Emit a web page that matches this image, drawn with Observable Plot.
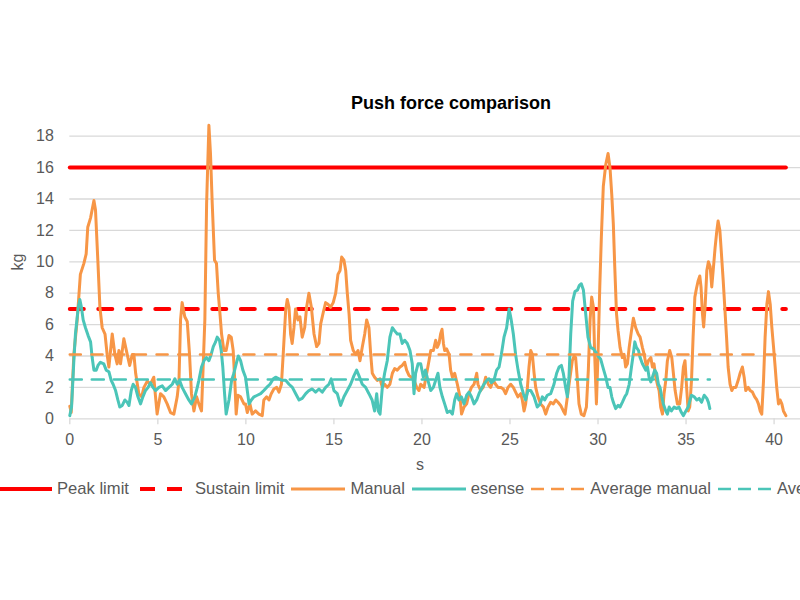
<!DOCTYPE html>
<html><head><meta charset="utf-8">
<script src="https://cdn.jsdelivr.net/npm/d3@7"></script>
<script src="https://cdn.jsdelivr.net/npm/@observablehq/plot@0.6"></script>
<style>
html,body{margin:0;padding:0;background:#fff;overflow:hidden;width:800px;height:600px}
#wrap{position:relative;width:800px;height:600px;font-family:"Liberation Sans",Arial,sans-serif;color:#595959}
#wrap svg.plot{position:absolute;left:0;top:0}
.title{position:absolute;left:0;width:902px;top:92px;text-align:center;font-weight:bold;font-size:18px;line-height:22px;color:#000}
.ylab{position:absolute;left:18px;top:262px;font-size:16px;transform:translate(-50%,-50%) rotate(-90deg);white-space:nowrap}
.xlab{position:absolute;left:420px;top:465px;font-size:16px;transform:translate(-50%,-50%)}
.legend{position:absolute;left:-2px;top:479px;display:flex;align-items:center;white-space:nowrap;font-size:16.6px;line-height:20px}
.legend .item{display:flex;align-items:center;margin-right:7px}
.legend svg{margin-right:5px;display:block}
</style></head><body><div id="wrap"></div>
<script>
// ---- data ----
const manualT = [0,0.08,0.23,0.42,0.6,0.8,0.93,1.02,1.18,1.37,1.46,1.6,1.71,1.84,2.0,2.12,2.22,2.41,2.56,2.69,2.79,2.88,3.07,3.26,3.4,3.55,3.64,3.74,3.92,4.08,4.21,4.4,4.58,4.77,4.87,4.96,5.15,5.34,5.53,5.72,5.91,6.1,6.2,6.29,6.38,6.53,6.67,6.8,6.91,7.05,7.2,7.33,7.48,7.56,7.67,7.77,7.9,7.99,8.09,8.22,8.33,8.43,8.5,8.62,8.75,8.88,9.04,9.17,9.28,9.38,9.45,9.55,9.7,9.89,9.98,
10.08,10.23,10.36,10.55,10.74,10.93,11.02,11.18,11.31,11.44,11.59,11.75,11.88,12.02,12.12,12.26,12.35,12.45,12.54,12.63,12.73,12.82,12.96,13.07,13.2,13.34,13.45,13.58,13.72,13.87,14.02,14.15,14.25,14.4,14.53,14.66,14.81,14.96,15.1,15.23,15.35,15.44,15.57,15.67,15.76,15.86,15.95,16.1,16.24,16.37,16.48,16.61,16.75,16.86,16.99,17.09,17.18,17.31,17.46,17.62,17.75,17.88,18.03,18.18,18.32,18.45,18.6,18.75,18.88,19.02,19.13,19.27,19.4,19.55,19.7,19.83,
19.93,20.12,20.27,20.4,20.5,20.65,20.78,20.87,20.97,21.06,21.14,21.22,21.29,21.4,21.54,21.63,21.73,21.86,22.01,22.16,22.25,22.39,22.54,22.67,22.81,22.96,23.11,23.18,23.33,23.48,23.62,23.77,23.9,24.05,24.18,24.32,24.47,24.62,24.75,24.89,25.04,25.19,25.32,25.45,25.61,25.7,25.8,25.89,25.99,26.08,26.18,26.27,26.37,26.46,26.59,26.74,26.9,27.03,27.16,27.31,27.46,27.6,27.73,27.88,28.03,28.13,28.26,28.41,28.54,28.64,28.73,28.83,28.92,29.05,29.2,29.34,29.45,29.55,29.64,29.74,29.81,29.91,30.0,30.1,30.19,
30.3,30.44,30.57,30.68,30.78,30.87,30.95,31.05,31.14,31.25,31.38,31.48,31.57,31.67,31.77,31.9,32.01,32.14,32.28,32.39,32.52,32.62,32.75,32.86,33.0,33.09,33.18,33.28,33.37,33.47,33.56,33.66,33.75,33.85,33.94,34.07,34.19,34.28,34.38,34.51,34.64,34.75,34.85,34.94,35.02,35.12,35.21,35.31,35.4,35.5,35.59,35.69,35.78,35.85,35.93,36.0,36.08,36.18,36.27,36.37,36.46,36.56,36.65,36.75,36.82,36.92,37.01,37.11,37.2,37.3,37.39,37.5,37.6,37.69,37.83,37.96,38.07,38.2,38.3,38.39,38.53,38.64,38.77,38.9,39.02,39.11,39.21,39.3,39.4,39.49,39.59,39.68,39.78,39.87,39.97,40.06,40.15,40.25,40.34,40.44,40.53,40.67];
const manualKg = [0.8,0.4,4.1,6.3,9.2,9.9,10.5,12.2,12.8,13.9,13.3,9.9,7.1,5.8,5.4,4.1,3.3,5.4,4.1,3.5,4.35,3.5,5.1,4.1,3.4,4.1,4.1,2.9,1.6,1.4,2.0,2.4,2.2,2.65,1.4,0.3,1.6,1.4,0.95,0.4,0.3,1.4,2.4,6.3,7.4,6.5,6.2,4.1,1.6,0.5,1.4,0.95,0.5,2.9,6.3,13.7,18.7,16.9,13.7,10.1,9.9,8.0,7.1,5.4,4.35,4.35,5.3,5.2,4.35,2.2,0.3,1.5,1.4,0.95,0.95,
0.4,0.95,0.3,0.5,0.3,0.2,1.2,1.4,1.2,1.6,1.9,2.0,1.7,2.2,4.1,6.9,7.6,7.1,5.4,4.8,5.8,7.0,6.3,6.5,5.2,5.8,7.1,8.0,7.1,5.4,4.6,4.8,6.05,6.8,7.4,7.3,7.1,7.4,8.0,9.2,9.45,10.3,10.1,9.45,8.0,6.7,5.0,4.35,4.1,4.35,3.7,4.55,5.4,6.3,5.8,4.1,2.9,2.65,2.45,2.55,2.0,2.2,2.0,2.2,2.9,3.2,3.1,3.3,3.4,3.6,3.1,2.75,2.65,2.45,2.0,1.8,
2.2,2.0,2.9,3.7,4.35,4.35,5.0,4.55,4.8,5.4,5.7,4.8,4.35,4.45,4.1,3.1,2.65,2.9,2.2,1.4,0.3,0.75,0.95,1.6,2.0,2.2,2.9,2.2,1.8,2.0,2.65,2.2,2.0,2.45,2.2,2.0,2.0,1.9,1.6,2.0,2.2,2.0,1.7,1.4,1.6,1.2,0.5,0.95,2.0,3.3,4.35,4.1,2.9,2.0,1.4,0.95,0.75,0.3,0.75,1.05,0.95,1.2,1.05,0.85,0.5,0.3,1.4,2.65,3.7,4.0,3.9,2.45,0.95,0.3,0.2,0.75,3.1,6.3,7.75,7.1,4.1,0.95,4.1,8.4,11.6,
14.8,16.2,16.9,16.0,14.3,12.4,9.7,6.7,5.6,4.55,3.9,4.1,3.3,3.5,4.55,5.6,6.4,5.8,5.4,5.2,4.55,4.1,3.3,3.7,3.9,3.3,3.5,2.65,2.2,1.8,0.75,0.3,1.6,2.45,3.7,4.35,3.9,2.9,1.8,0.95,0.95,2.0,3.3,3.7,2.2,0.5,0.75,2.45,5.2,7.75,8.3,8.8,9.1,8.4,6.7,5.85,7.1,9.45,10.0,9.7,8.4,9.7,10.9,12.0,12.6,12.0,10.5,8.8,7.1,5.2,3.3,2.2,1.8,2.0,2.0,2.45,2.9,3.3,2.65,1.8,2.0,1.8,1.7,1.4,1.2,0.95,0.5,0.3,2.45,5.2,7.3,8.1,7.3,5.85,4.55,3.3,2.0,0.95,1.2,0.95,0.5,0.2];

const esenseT = [0,0.1,0.23,0.32,0.48,0.57,0.66,0.76,0.89,1.04,1.18,1.27,1.37,1.5,1.6,1.74,1.93,2.07,2.22,2.35,2.46,2.6,2.73,2.84,2.98,3.13,3.26,3.36,3.49,3.6,3.73,3.87,4.02,4.15,4.3,4.45,4.58,4.72,4.87,5.06,5.25,5.44,5.63,5.82,5.97,6.1,6.23,6.38,6.57,6.76,6.91,7.1,7.24,7.33,7.48,7.62,7.75,7.9,8.03,8.15,8.28,8.37,8.5,8.6,8.69,8.79,8.88,9.04,9.19,9.32,9.45,9.57,9.7,9.83,9.98,
10.18,10.31,10.46,10.65,10.84,11.02,11.18,11.37,11.56,11.69,11.88,12.07,12.26,12.45,12.64,12.83,13.02,13.2,13.4,13.58,13.77,13.96,14.15,14.34,14.53,14.72,14.85,15.0,15.19,15.38,15.57,15.76,15.95,16.14,16.29,16.42,16.61,16.8,16.99,17.17,17.31,17.43,17.52,17.62,17.75,17.88,18.03,18.18,18.32,18.45,18.6,18.75,18.88,19.02,19.17,19.32,19.45,19.55,19.64,19.78,
19.93,20.08,20.2,20.34,20.5,20.65,20.78,20.91,21.02,21.16,21.29,21.44,21.59,21.73,21.86,21.97,22.1,22.24,22.39,22.54,22.67,22.81,22.96,23.11,23.24,23.37,23.52,23.68,23.81,23.94,24.09,24.24,24.38,24.51,24.66,24.81,24.95,25.07,25.19,25.32,25.46,25.61,25.76,25.89,26.02,26.18,26.37,26.55,26.71,26.84,26.97,27.12,27.31,27.5,27.65,27.79,27.92,28.03,28.16,28.26,28.35,28.45,28.56,28.69,28.83,28.94,29.05,29.17,29.3,29.43,29.58,29.74,29.87,30.0,30.15,
30.3,30.44,30.57,30.68,30.78,30.87,31.0,31.14,31.25,31.38,31.52,31.63,31.77,31.9,32.0,32.09,32.18,32.3,32.39,32.52,32.62,32.71,32.81,32.9,33.0,33.09,33.22,33.33,33.43,33.52,33.62,33.71,33.85,33.94,34.04,34.17,34.32,34.47,34.6,34.74,34.85,34.99,35.12,35.23,35.31,35.46,35.61,35.74,35.88,36.03,36.18,36.27,36.35];
const esenseKg = [0.2,0.75,3.7,5.4,7.1,7.6,7.1,6.3,5.8,5.3,4.9,3.9,3.1,3.1,3.4,3.6,3.5,3.1,3.0,2.45,2.2,1.8,1.2,0.75,0.85,1.2,1.05,0.85,1.8,2.2,2.0,1.4,0.95,1.4,1.8,2.0,2.3,2.0,1.8,2.0,2.1,1.8,2.0,2.2,2.55,2.2,2.45,2.0,1.6,1.2,0.95,1.4,2.0,2.45,3.3,3.7,3.9,3.7,4.1,4.6,4.9,5.2,5.0,4.35,3.3,1.6,0.3,1.2,2.45,2.9,3.5,4.0,3.7,3.1,2.65,
0.95,1.2,1.4,1.5,1.6,1.8,2.0,2.2,2.55,2.65,2.55,2.45,2.45,2.2,2.0,1.6,1.2,1.3,1.6,1.8,1.9,1.7,1.9,1.7,2.0,2.2,2.55,1.8,1.6,0.85,1.4,1.8,2.2,2.75,3.1,2.75,2.2,2.0,1.6,1.2,0.5,1.6,0.5,0.3,2.0,2.9,3.7,5.2,5.8,5.6,5.4,5.4,4.8,5.0,4.8,4.35,3.5,1.6,2.9,3.5,
3.5,2.65,3.1,2.45,1.8,2.0,2.45,2.9,2.0,1.4,0.95,0.4,0.5,0.3,1.2,1.6,1.2,1.4,0.95,1.5,1.7,1.4,0.95,1.2,1.6,1.9,2.2,2.45,2.55,2.3,2.45,3.1,3.3,4.1,5.2,5.8,7.0,6.3,5.4,4.1,3.1,2.2,1.6,1.2,1.8,1.8,1.4,0.75,0.95,1.4,1.2,1.5,1.6,2.2,2.9,3.3,3.4,2.9,2.0,1.4,2.65,5.4,7.5,8.1,8.2,8.5,8.6,8.2,6.7,5.2,4.55,4.45,4.25,4.0,3.8,
3.2,2.65,2.0,2.0,1.4,1.05,0.65,0.85,0.75,1.05,1.4,1.6,2.2,3.3,4.1,4.9,4.55,4.35,3.9,3.5,3.3,3.1,3.3,2.65,2.35,2.65,3.1,2.9,2.2,2.0,1.4,0.95,0.5,0.3,0.75,0.5,0.75,0.65,0.75,0.4,0.2,0.5,0.75,1.2,1.5,1.4,1.2,1.3,1.05,1.5,1.3,1.05,0.65];

const peakLimit = 16;
const sustainLimit = 7;
const averageManual = 4.1;
const averageEsense = 2.5;

const xTicks = [0,5,10,15,20,25,30,35,40];
const yTicks = [0,2,4,6,8,10,12,14,16,18];
const xMax = 41.5;
const yMax = 18;

const seriesNames = ["Peak limit","Sustain limit","Manual","esense","Average manual","Average esense"];
const seriesColors = ["#ff0000","#ff0000","#f79646","#4bc5b8","#f79646","#4bc5b8"];

// ---- build ----
const manual = manualT.map((t,i)=>({t, kg: manualKg[i]}));
const esense = esenseT.map((t,i)=>({t, kg: esenseKg[i]}));
const tEndManual = manualT[manualT.length-1];
const tEndEsense = esenseT[esenseT.length-1];
const flat = (v, t1) => [{t:0,kg:v},{t:t1,kg:v}];

const styles = [
  {w:4, dash:null}, {w:4, dash:"14,14.5"}, {w:3, dash:null}, {w:3, dash:null}, {w:2.6, dash:"11,10.7"}, {w:2.6, dash:"12,10"}
];
const legendDash = [null,"15,12",null,null,"13,7","13,7"];
const legendDashOffset = [0,-4,0,0,0,0];

const font = '"Liberation Sans", Arial, sans-serif';
const chart = Plot.plot({
  width: 800, height: 600,
  marginLeft: 69.3, marginRight: 0, marginTop: 135.7, marginBottom: 181.7,
  style: {fontFamily: font, fontSize: "16px", background: "transparent"},
  x: {domain: [0, xMax]},
  y: {domain: [0, yMax]},
  marks: [
    Plot.gridY({ticks: yTicks, stroke: "#d9d9d9", strokeOpacity: 1, strokeWidth: 1.3}),
    Plot.axisY({ticks: yTicks, tickSize: 0, tickPadding: 16, fill: "#595959", fontSize: 16, label: null}),
    Plot.axisX({ticks: xTicks, tickSize: 6, tickPadding: 9, stroke: "#d9d9d9", strokeOpacity: 1, strokeWidth: 1.3, fill: "#595959", fontSize: 16, label: null}),
    Plot.line(flat(peakLimit, tEndManual), {x:"t", y:"kg", stroke: seriesColors[0], strokeWidth: styles[0].w}),
    Plot.line(flat(sustainLimit, tEndManual), {x:"t", y:"kg", stroke: seriesColors[1], strokeWidth: styles[1].w, strokeDasharray: styles[1].dash, strokeLinecap: "round"}),
    Plot.line(manual, {x:"t", y:"kg", stroke: seriesColors[2], strokeWidth: styles[2].w, strokeLinejoin: "round"}),
    Plot.line(esense, {x:"t", y:"kg", stroke: seriesColors[3], strokeWidth: styles[3].w, strokeLinejoin: "round"}),
    Plot.line(flat(averageManual, tEndManual), {x:"t", y:"kg", stroke: seriesColors[4], strokeWidth: styles[4].w, strokeDasharray: styles[4].dash}),
    Plot.line(flat(averageEsense, tEndEsense), {x:"t", y:"kg", stroke: seriesColors[5], strokeWidth: styles[5].w, strokeDasharray: styles[5].dash})
  ]
});

const wrap = document.getElementById("wrap");
wrap.appendChild(chart);

const title = document.createElement("div");
title.className = "title"; title.textContent = "Push force comparison";
wrap.appendChild(title);
const ylab = document.createElement("div");
ylab.className = "ylab"; ylab.textContent = "kg"; wrap.appendChild(ylab);
const xlab = document.createElement("div");
xlab.className = "xlab"; xlab.textContent = "s"; wrap.appendChild(xlab);

const legend = document.createElement("div");
legend.className = "legend";
seriesNames.forEach((name, i) => {
  const item = document.createElement("div");
  item.className = "item";
  const ns = "http://www.w3.org/2000/svg";
  const sw = document.createElementNS(ns, "svg");
  sw.setAttribute("width", 54); sw.setAttribute("height", 8);
  const ln = document.createElementNS(ns, "line");
  ln.setAttribute("x1", 0); ln.setAttribute("x2", 54);
  ln.setAttribute("y1", 4); ln.setAttribute("y2", 4);
  ln.setAttribute("stroke", seriesColors[i]);
  ln.setAttribute("stroke-width", styles[i].w);
  if (legendDash[i]) { ln.setAttribute("stroke-dasharray", legendDash[i]); ln.setAttribute("stroke-dashoffset", legendDashOffset[i]); }
  sw.appendChild(ln);
  item.appendChild(sw);
  const tx = document.createElement("span");
  tx.textContent = name;
  item.appendChild(tx);
  legend.appendChild(item);
});
wrap.appendChild(legend);
</script>
</body></html>
